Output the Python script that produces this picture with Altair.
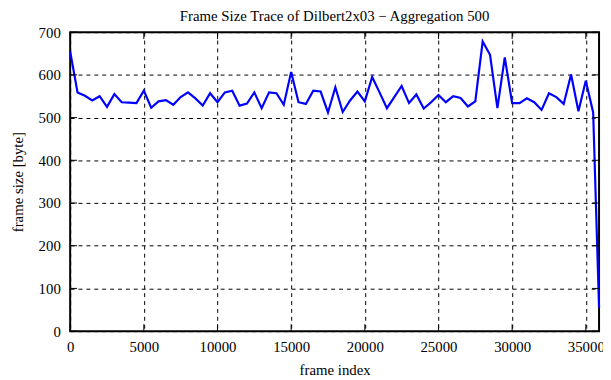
import altair as alt
import pandas as pd

frames = [0, 500, 1000, 1500, 2000, 2500, 3000, 3500, 4000, 4500,
          5000, 5500, 6000, 6500, 7000, 7500, 8000, 8500, 9000, 9500,
          10000, 10500, 11000, 11500, 12000, 12500, 13000, 13500, 14000, 14500,
          15000, 15500, 16000, 16500, 17000, 17500, 18000, 18500, 19000, 19500,
          20000, 20500, 21000, 21500, 22000, 22500, 23000, 23500, 24000, 24500,
          25000, 25500, 26000, 26500, 27000, 27500, 28000, 28500, 29000, 29500,
          30000, 30500, 31000, 31500, 32000, 32500, 33000, 33500, 34000, 34500,
          35000, 35500, 35900]
sizes = [655, 559, 551, 540, 550, 525, 555, 536, 535, 534,
         563, 523, 538, 541, 530, 548, 559, 545, 528, 557,
         536, 559, 563, 528, 533, 559, 522, 559, 557, 530,
         607, 536, 532, 563, 561, 512, 571, 513, 540, 561,
         538, 595, 559, 522, 548, 574, 534, 554, 521, 536,
         553, 536, 550, 546, 526, 538, 678, 647, 522, 641,
         534, 534, 545, 536, 518, 557, 548, 532, 601, 515,
         586, 512, 55]

x_ticks = [0, 5000, 10000, 15000, 20000, 25000, 30000, 35000]
y_ticks = [0, 100, 200, 300, 400, 500, 600, 700]

W, H = 536, 303
FONT = "Liberation Serif"
TL = 7

df = pd.DataFrame({"frame": frames, "size": sizes})
xt = pd.DataFrame({"frame": x_ticks})
yt = pd.DataFrame({"size": y_ticks})

xscale = alt.Scale(domain=[0, 35900], nice=False, zero=False)
yscale = alt.Scale(domain=[0, 700], nice=False)

xaxis = alt.Axis(values=x_ticks, grid=True, gridDash=[4, 4], gridColor="black",
                 gridOpacity=1, domain=False, ticks=False, labelPadding=9,
                 labelFlush=False, labelOverlap=False, format="d", titlePadding=8)
yaxis = alt.Axis(values=y_ticks, grid=True, gridDash=[4, 4], gridColor="black",
                 gridOpacity=1, domain=False, ticks=False, labelPadding=10,
                 labelFlush=False, labelOverlap=False, format="d", titlePadding=13)


def X():
    return alt.X("frame:Q", scale=xscale, title="frame index", axis=xaxis)


def Y():
    return alt.Y("size:Q", scale=yscale, title="frame size [byte]", axis=yaxis)


line = alt.Chart(df).mark_line(color="#0000ff", strokeWidth=2.2).encode(x=X(), y=Y())

xb = alt.Chart(xt).mark_rule(color="black", strokeWidth=1).encode(
    x=X(), y=alt.value(H), y2=alt.value(H - TL))
xtop = alt.Chart(xt).mark_rule(color="black", strokeWidth=1).encode(
    x=X(), y=alt.value(0), y2=alt.value(TL))
yl = alt.Chart(yt).mark_rule(color="black", strokeWidth=1).encode(
    y=Y(), x=alt.value(0), x2=alt.value(TL))
yr = alt.Chart(yt).mark_rule(color="black", strokeWidth=1).encode(
    y=Y(), x=alt.value(W), x2=alt.value(W - TL))

chart = alt.layer(line, xb, xtop, yl, yr).properties(
    width=W, height=H,
    title=alt.TitleParams("Frame Size Trace of Dilbert2x03 − Aggregation 500",
                          font=FONT, fontSize=15, fontWeight="normal", color="black",
                          anchor="middle", offset=1),
    autosize=alt.AutoSizeParams(type="none"),
    padding={"left": 63, "top": 22, "right": 4, "bottom": 45},
).configure_view(stroke="black", strokeWidth=2).configure_axis(
    labelFont=FONT, labelFontSize=15, labelColor="black",
    titleFont=FONT, titleFontSize=15, titleFontWeight="normal", titleColor="black",
)

chart.save("out.html", embed_options={"renderer": "svg", "actions": False})
